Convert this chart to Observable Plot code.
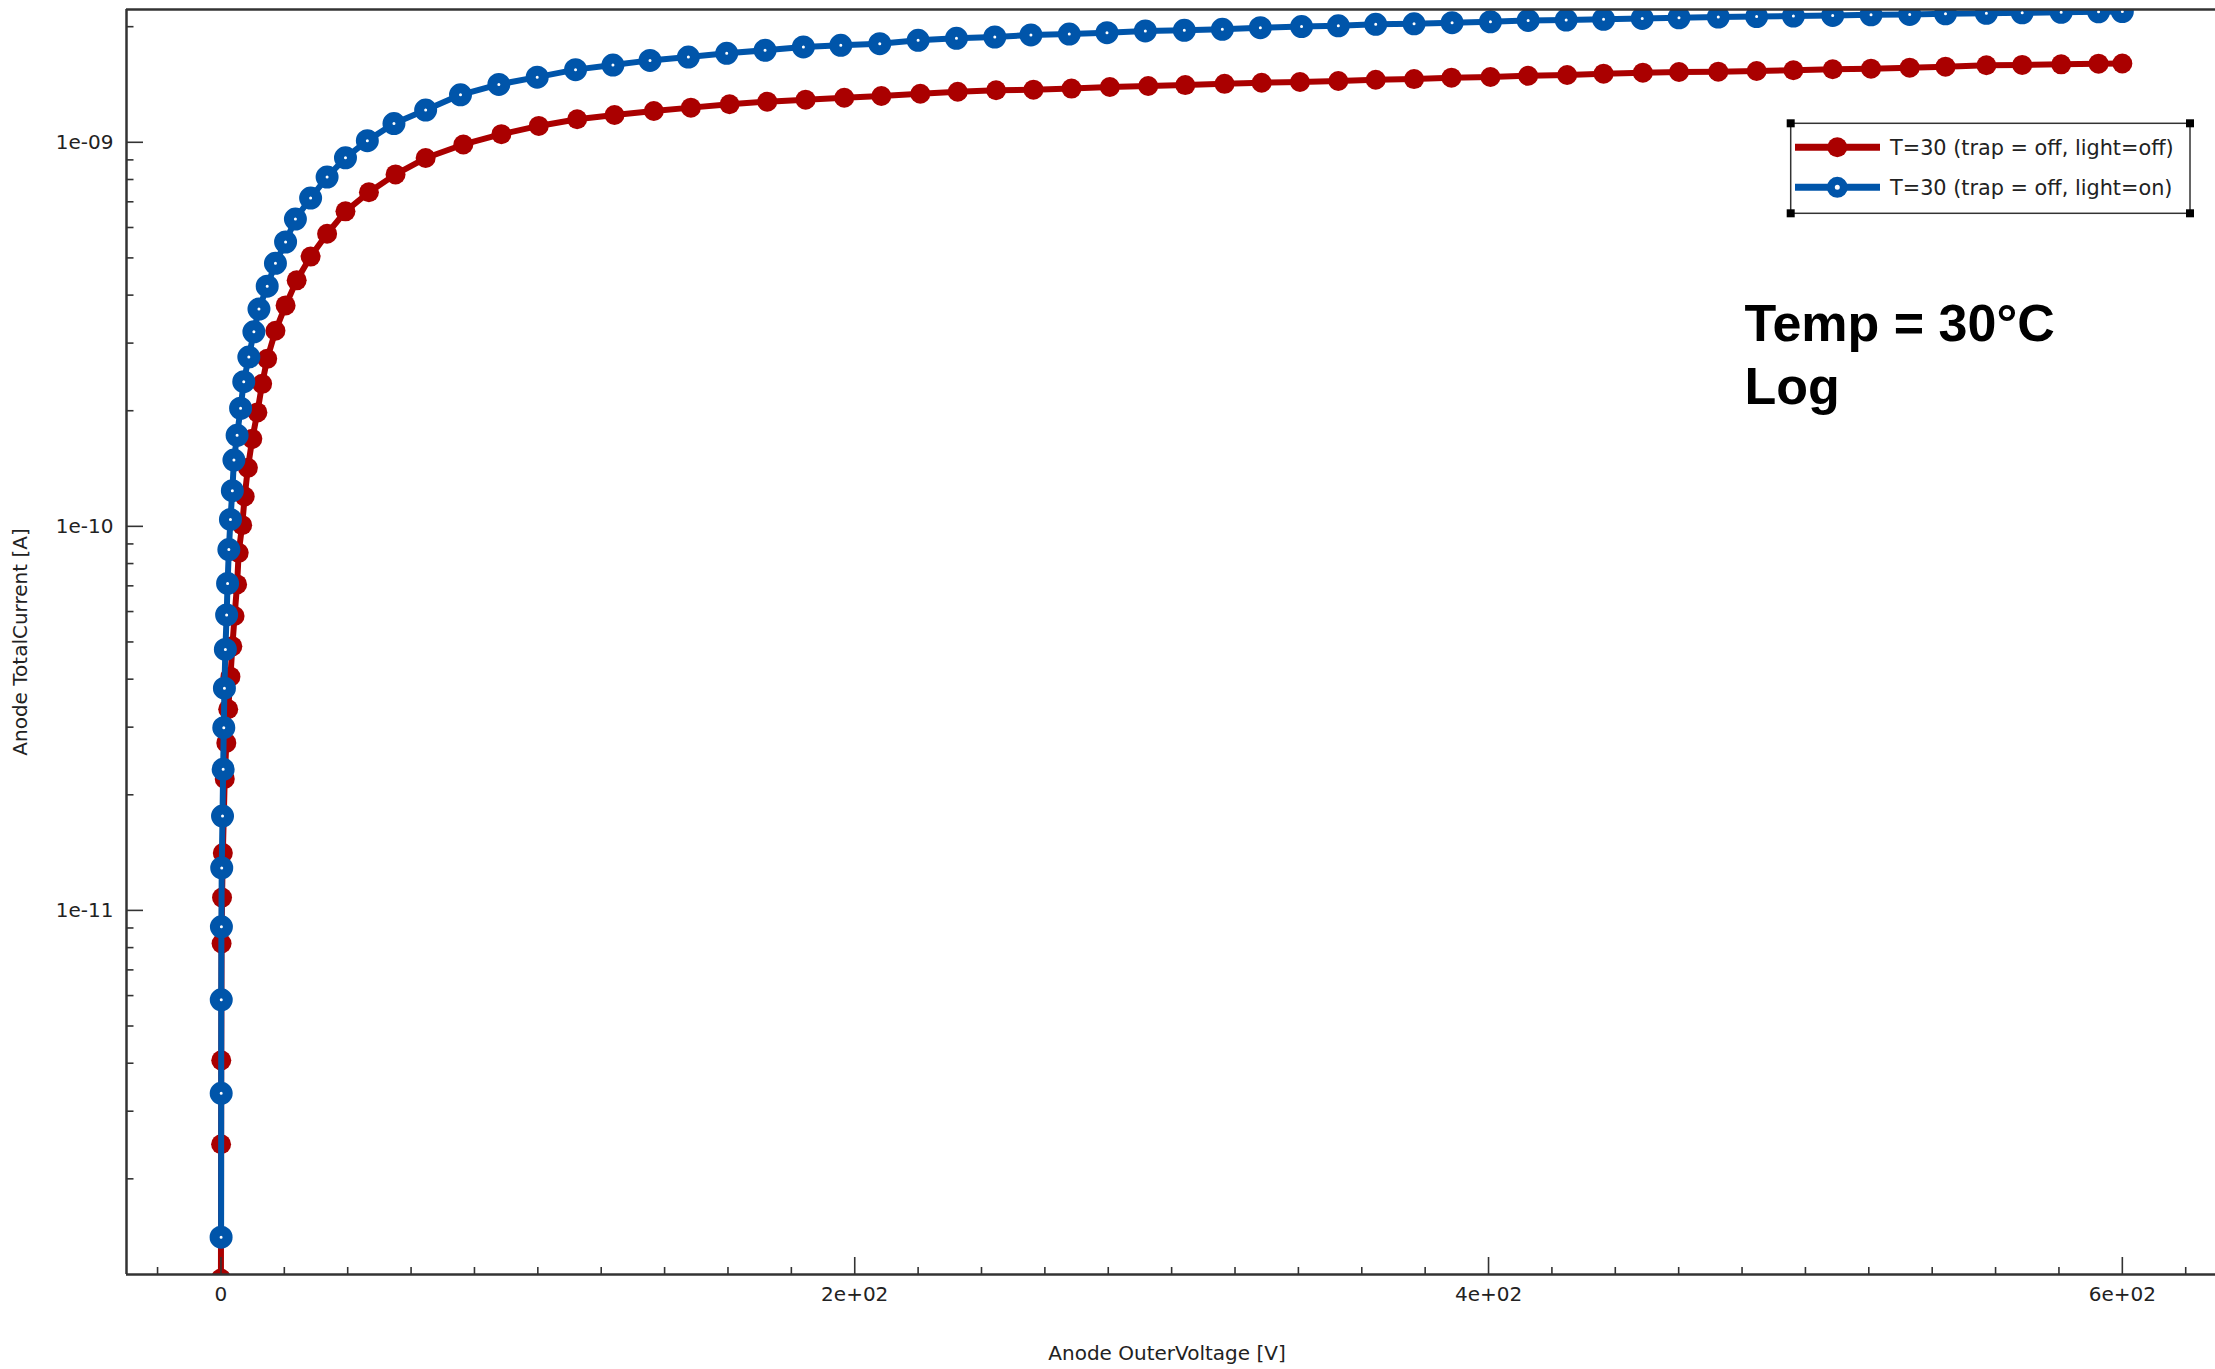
<!DOCTYPE html>
<html><head><meta charset="utf-8">
<script src="https://cdn.jsdelivr.net/npm/d3@7"></script>
<script src="https://cdn.jsdelivr.net/npm/@observablehq/plot@0.6"></script>
<style>
body{margin:0;background:#fff;}
#wrap{position:relative;width:2215px;height:1369px;font-family:"DejaVu Sans",sans-serif;background:#fff;}
#wrap svg{display:block;}
#legend{position:absolute;left:1780px;top:113px;}
</style></head><body><div id="wrap"></div>
<script>
// ---- data ----
const redX = [0, 0.05, 0.1, 0.2, 0.35, 0.6, 1.2, 1.7, 2.3, 3.0, 3.6, 4.3, 5.1, 5.6, 6.7, 7.5, 8.5, 9.9, 11.5, 13.0, 14.6, 17.2, 20.4, 23.9, 28.3, 33.5, 39.3, 46.7, 55.1, 64.6, 76.5, 88.5, 100.3, 112.4, 124.2, 136.6, 148.3, 160.5, 172.4, 184.5, 196.7, 208.4, 220.7, 232.5, 244.6, 256.4, 268.4, 280.5, 292.6, 304.3, 316.7, 328.4, 340.5, 352.6, 364.4, 376.5, 388.3, 400.6, 412.5, 424.8, 436.3, 448.7, 460.1, 472.5, 484.6, 496.2, 508.6, 520.7, 532.9, 544.2, 557.1, 568.4, 580.7, 592.5, 600];
const redY = [1.1e-12, 2.46e-12, 4.07e-12, 8.2e-12, 1.08e-11, 1.41e-11, 2.2e-11, 2.73e-11, 3.34e-11, 4.06e-11, 4.87e-11, 5.84e-11, 7.06e-11, 8.53e-11, 1.007e-10, 1.196e-10, 1.42e-10, 1.69e-10, 1.98e-10, 2.35e-10, 2.73e-10, 3.23e-10, 3.76e-10, 4.37e-10, 5.04e-10, 5.78e-10, 6.61e-10, 7.41e-10, 8.25e-10, 9.10e-10, 9.87e-10, 1.05e-9, 1.103e-9, 1.148e-9, 1.178e-9, 1.206e-9, 1.231e-9, 1.256e-9, 1.276e-9, 1.291e-9, 1.306e-9, 1.320e-9, 1.338e-9, 1.354e-9, 1.366e-9, 1.371e-9, 1.380e-9, 1.393e-9, 1.401e-9, 1.409e-9, 1.420e-9, 1.429e-9, 1.435e-9, 1.444e-9, 1.455e-9, 1.461e-9, 1.473e-9, 1.479e-9, 1.490e-9, 1.497e-9, 1.509e-9, 1.518e-9, 1.524e-9, 1.527e-9, 1.533e-9, 1.540e-9, 1.549e-9, 1.555e-9, 1.564e-9, 1.574e-9, 1.587e-9, 1.590e-9, 1.596e-9, 1.602e-9, 1.604e-9];
const blueX = [0.05, 0.08, 0.1, 0.15, 0.25, 0.5, 0.7, 0.9, 1.1, 1.4, 1.8, 2.1, 2.5, 3.0, 3.6, 4.1, 5.1, 6.2, 7.2, 8.8, 10.4, 12.0, 14.6, 17.2, 20.4, 23.5, 28.3, 33.5, 39.3, 46.2, 54.6, 64.6, 75.6, 87.7, 99.8, 111.9, 123.7, 135.4, 147.5, 159.6, 171.7, 183.8, 195.6, 207.9, 220.0, 232.1, 244.2, 255.6, 267.7, 279.6, 291.7, 304.0, 316.0, 328.0, 341.0, 352.6, 364.4, 376.5, 388.5, 400.6, 412.5, 424.5, 436.3, 448.5, 460.1, 472.5, 484.6, 496.2, 508.6, 520.7, 532.9, 544.2, 557.1, 568.4, 580.7, 592.5, 600];
const blueY = [1.41e-12, 3.34e-12, 5.85e-12, 9.06e-12, 1.29e-11, 1.76e-11, 2.33e-11, 2.99e-11, 3.79e-11, 4.78e-11, 5.88e-11, 7.1e-11, 8.7e-11, 1.042e-10, 1.238e-10, 1.488e-10, 1.726e-10, 2.03e-10, 2.38e-10, 2.76e-10, 3.21e-10, 3.68e-10, 4.22e-10, 4.84e-10, 5.50e-10, 6.31e-10, 7.16e-10, 8.12e-10, 9.11e-10, 1.01e-9, 1.119e-9, 1.213e-9, 1.329e-9, 1.415e-9, 1.478e-9, 1.546e-9, 1.589e-9, 1.634e-9, 1.667e-9, 1.705e-9, 1.736e-9, 1.771e-9, 1.788e-9, 1.806e-9, 1.843e-9, 1.865e-9, 1.880e-9, 1.903e-9, 1.914e-9, 1.929e-9, 1.949e-9, 1.957e-9, 1.969e-9, 1.988e-9, 2.002e-9, 2.010e-9, 2.029e-9, 2.035e-9, 2.048e-9, 2.060e-9, 2.077e-9, 2.081e-9, 2.090e-9, 2.102e-9, 2.110e-9, 2.118e-9, 2.125e-9, 2.132e-9, 2.140e-9, 2.147e-9, 2.153e-9, 2.160e-9, 2.167e-9, 2.173e-9, 2.180e-9, 2.186e-9, 2.190e-9];
const seriesNames = ["T=30 (trap = off, light=off)", "T=30 (trap = off, light=on)"];
const xMajor = [0, 200, 400, 600];
const xTickLabels = ["0", "2e+02", "4e+02", "6e+02"];
const yMajor = [1e-9, 1e-10, 1e-11];
const yTickLabels = ["1e-09", "1e-10", "1e-11"];
const xTitle = "Anode OuterVoltage [V]";
const yTitle = "Anode TotalCurrent [A]";
const noteLines = ["Temp = 30°C", "Log"];

// ---- setup ----
const RED = "#aa0000", BLUE = "#0055aa", AX = "#333333", TXT = "#222222";
const W = 2215, H = 1369, mL = 126, mR = 0, mT = 9, mB = 95;
const xDomain = [-29.8, 629.4];
const yDomain = [1.127e-12, 2.217e-9];
const frameW = W - mL - mR, frameH = H - mT - mB;

const red = redX.map((x, i) => ({x, y: redY[i]}));
const blue = blueX.map((x, i) => ({x, y: blueY[i]}));

const xMinor = d3.range(-20, 630, 20).filter(v => !xMajor.includes(v) && v > xDomain[0] && v < xDomain[1]);
const yMinor = [];
for (let e = -13; e <= -9; e++) for (let k = 2; k <= 9; k++) {
  const v = k * Math.pow(10, e);
  if (v > yDomain[0] && v < yDomain[1]) yMinor.push(v);
}

const chart = Plot.plot({
  width: W, height: H,
  marginLeft: mL, marginRight: mR, marginTop: mT, marginBottom: mB,
  x: {domain: xDomain, axis: null},
  y: {type: "log", domain: yDomain, axis: null},
  style: {fontFamily: "DejaVu Sans, sans-serif", fontSize: "20px", color: TXT, background: "white", overflow: "visible"},
  marks: [
    Plot.line(red, {x: "x", y: "y", stroke: RED, strokeWidth: 6, clip: true}),
    Plot.dot(red, {x: "x", y: "y", r: 10, fill: RED, stroke: "none", clip: true}),
    Plot.line(blue, {x: "x", y: "y", stroke: BLUE, strokeWidth: 6, clip: true}),
    Plot.dot(blue, {x: "x", y: "y", r: 6.5, fill: "white", stroke: BLUE, strokeWidth: 10, clip: true}),
    // frame lines
    Plot.ruleX([xDomain[0]], {stroke: AX, strokeWidth: 2.5}),
    Plot.ruleY([yDomain[0]], {stroke: AX, strokeWidth: 2.5}),
    Plot.ruleY([yDomain[1]], {stroke: AX, strokeWidth: 2.5}),
    // inward ticks
    Plot.ruleX(xMajor, {x: d => d, insetTop: frameH - 17, stroke: AX, strokeWidth: 1.6}),
    Plot.ruleX(xMinor, {x: d => d, insetTop: frameH - 7, stroke: AX, strokeWidth: 1.6}),
    Plot.ruleY(yMajor, {y: d => d, insetRight: frameW - 17, stroke: AX, strokeWidth: 1.6}),
    Plot.ruleY(yMinor, {y: d => d, insetRight: frameW - 7.5, stroke: AX, strokeWidth: 1.6}),
    // tick labels
    Plot.text(xMajor, {x: d => d, text: (d, i) => xTickLabels[i], frameAnchor: "bottom", dy: 26, fill: TXT, fontSize: 20}),
    Plot.text(yMajor, {y: d => d, text: (d, i) => yTickLabels[i], frameAnchor: "left", dx: -13, textAnchor: "end", fill: TXT, fontSize: 20}),
    // axis titles
    Plot.text([xTitle], {text: d => d, frameAnchor: "bottom", dx: -4, dy: 85, textAnchor: "middle", fill: TXT, fontSize: 20}),
    Plot.text([yTitle], {text: d => d, frameAnchor: "left", dx: -106, rotate: -90, textAnchor: "middle", fill: TXT, fontSize: 20}),
    // annotation
    Plot.text([noteLines[0]], {text: d => d, frameAnchor: "top-left", dx: 1618, dy: 331, textAnchor: "start", lineAnchor: "bottom", fontSize: 52, fontWeight: "bold", fontFamily: "Liberation Sans, Arial, sans-serif", fill: "#000"}),
    Plot.text([noteLines[1]], {text: d => d, frameAnchor: "top-left", dx: 1618, dy: 394, textAnchor: "start", lineAnchor: "bottom", fontSize: 52, fontWeight: "bold", fontFamily: "Liberation Sans, Arial, sans-serif", fill: "#000"})
  ]
});
const wrap = document.getElementById("wrap");
wrap.appendChild(chart);

// ---- legend (overlay) ----
const leg = d3.select(wrap).append("svg").attr("id", "legend").attr("width", 425).attr("height", 110);
leg.append("rect").attr("x", 10.7).attr("y", 10.3).attr("width", 399.3).attr("height", 90)
  .attr("fill", "white").attr("stroke", AX).attr("stroke-width", 1.5);
[[10.7, 10.3], [410, 10.3], [10.7, 100.3], [410, 100.3]].forEach(([cx, cy]) =>
  leg.append("rect").attr("x", cx - 4).attr("y", cy - 4).attr("width", 8).attr("height", 8).attr("fill", "#000"));
const items = [
  {name: seriesNames[0], color: RED, hollow: false, y: 34.3},
  {name: seriesNames[1], color: BLUE, hollow: true, y: 74.3}
];
items.forEach(it => {
  leg.append("line").attr("x1", 15).attr("x2", 100).attr("y1", it.y).attr("y2", it.y)
    .attr("stroke", it.color).attr("stroke-width", 7);
  if (it.hollow) {
    leg.append("circle").attr("cx", 57.3).attr("cy", it.y).attr("r", 6.5)
      .attr("fill", "white").attr("stroke", it.color).attr("stroke-width", 8);
  } else {
    leg.append("circle").attr("cx", 57.3).attr("cy", it.y).attr("r", 10).attr("fill", it.color);
  }
  leg.append("text").attr("x", 110).attr("y", it.y).attr("dy", "0.35em")
    .attr("font-family", "DejaVu Sans, sans-serif").attr("font-size", 20.8).attr("fill", TXT).text(it.name);
});
</script>
</body></html>
